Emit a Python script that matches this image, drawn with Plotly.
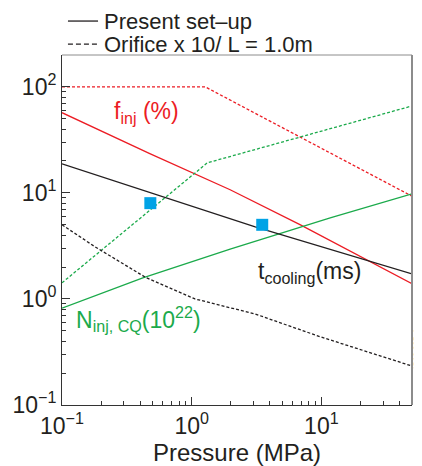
import plotly.graph_objects as go

# values (log-log axes)
pressure_f_present = [0.1, 0.48, 1.98, 6.9, 50]
f_inj_present = [57, 23.3, 10.7, 5.0, 1.39]
pressure_f_orifice = [0.1, 1.27, 50]
f_inj_orifice = [100, 100, 9.3]

pressure_t_present = [0.1, 3.09, 50]
t_cool_present = [18.8, 4.78, 1.72]
pressure_t_orifice = [0.1, 0.18, 0.44, 1.06, 3.1, 9.8, 50]
t_cool_orifice = [5.0, 3.1, 1.6, 1.0, 0.72, 0.44, 0.233]

pressure_n_present = [0.1, 0.42, 1.98, 3.09, 11.7, 50]
n_inj_present = [0.82, 1.58, 2.95, 3.5, 5.8, 9.8]
pressure_n_orifice = [0.1, 1.32, 50]
n_inj_orifice = [1.42, 19.2, 66]

marker_pressure = [0.48, 3.5]
marker_value = [8.0, 5.0]

legend_names = ["Present set\u2013up", "Orifice x 10/ L = 1.0m"]

RED = "#EC1C24"
GREEN = "#1BAA4B"
BLACK = "#231F20"
DOT = "3px,2px"
FONT = "Liberation Sans, Arial, sans-serif"

fig = go.Figure()


def add_line(x, y, color, dash=None):
    fig.add_trace(go.Scatter(x=x, y=y, mode="lines", showlegend=False,
                             line=dict(color=color, width=1.3, dash=dash)))


add_line(pressure_f_orifice, f_inj_orifice, RED, DOT)
add_line(pressure_f_present, f_inj_present, RED)
add_line(pressure_n_orifice, n_inj_orifice, GREEN, DOT)
add_line(pressure_n_present, n_inj_present, GREEN)
add_line(pressure_t_orifice, t_cool_orifice, BLACK, DOT)
add_line(pressure_t_present, t_cool_present, BLACK)

fig.add_trace(go.Scatter(x=marker_pressure, y=marker_value, mode="markers",
                         showlegend=False,
                         marker=dict(symbol="square", size=12, color="#00A3E6")))

# legend drawn by hand above the axes (line sample + text)
for name, ly, dash in zip(legend_names, [1.097, 1.031], [None, "5px,3px"]):
    fig.add_shape(type="line", xref="paper", yref="paper", x0=0.017, x1=0.103,
                  y0=ly, y1=ly, line=dict(color=BLACK, width=1.3, dash=dash))
    fig.add_annotation(x=0.118, y=ly, xref="paper", yref="paper", text=name,
                       showarrow=False, xanchor="left", yanchor="middle",
                       borderpad=0, font=dict(family=FONT, size=22, color=BLACK))

label_font = dict(family=FONT, size=23)
fig.add_annotation(x=-0.351, y=1.76, text="f<sub>inj</sub> (%)", showarrow=False,
                   font=dict(label_font, color=RED))
fig.add_annotation(x=0.907, y=0.245, text="t<sub>cooling</sub>(ms)", showarrow=False,
                   font=dict(label_font, color=BLACK))
fig.add_annotation(x=-0.41, y=-0.19, text="N<sub>inj, CQ</sub>(10<sup>22</sup>)",
                   showarrow=False, font=dict(label_font, color=GREEN))
fig.add_annotation(x=0.996, y=0.1, xref="paper", yref="paper", text="IC10.205-4c",
                   showarrow=False, textangle=-90, xanchor="left", yanchor="bottom",
                   borderpad=0, font=dict(family=FONT, size=8, color="#555555"))

# right and top frame lines
fig.add_shape(type="line", xref="paper", yref="paper", x0=1, x1=1, y0=0, y1=1,
              line=dict(color="#8C8C8C", width=2))
fig.add_shape(type="line", xref="paper", yref="paper", x0=0, x1=1, y0=1, y1=1,
              line=dict(color="#8C8C8C", width=1))

minor_x = [m * 10 ** e for e in (-1, 0, 1) for m in range(2, 10)]
minor_x = [v for v in minor_x if v < 50]
minor_y = [m * 10 ** e for e in (-1, 0, 1, 2) for m in range(2, 10)]
minor_y = [v for v in minor_y if v < 199]

tick_font = dict(family=FONT, size=23, color="#231F20")

fig.update_xaxes(type="log", range=[-1, 1.699], showgrid=False, zeroline=False,
                 showline=True, linecolor="#333333", linewidth=1,
                 ticks="inside", ticklen=8, tickcolor="#333333",
                 tickvals=[0.1, 1, 10],
                 ticktext=["10<sup>\u22121</sup>", "10<sup>0</sup>", "10<sup>1</sup>"],
                 tickfont=tick_font,
                 minor=dict(tickmode="array", tickvals=minor_x, ticks="inside",
                            ticklen=4, tickcolor="#333333", showgrid=False),
                 title=dict(text="Pressure (MPa)", standoff=4,
                            font=dict(family=FONT, size=24, color="#231F20")))
fig.update_yaxes(type="log", range=[-1, 2.3], showgrid=False, zeroline=False,
                 showline=True, linecolor="#333333", linewidth=1,
                 ticks="inside", ticklen=8, tickcolor="#333333",
                 tickvals=[0.1, 1, 10, 100],
                 ticktext=["10<sup>\u22121</sup>", "10<sup>0</sup>", "10<sup>1</sup>",
                           "10<sup>2</sup>"],
                 tickfont=tick_font,
                 minor=dict(tickmode="array", tickvals=minor_y, ticks="inside",
                            ticklen=4, tickcolor="#333333", showgrid=False))

# the page adds an 8px body margin, so the figure is a little smaller than the window
fig.update_layout(
    width=414, height=458,
    margin=dict(l=54, r=10, t=47, b=61, autoexpand=False),
    plot_bgcolor="white", paper_bgcolor="white",
    showlegend=False,
)

fig.write_html("out.html")
